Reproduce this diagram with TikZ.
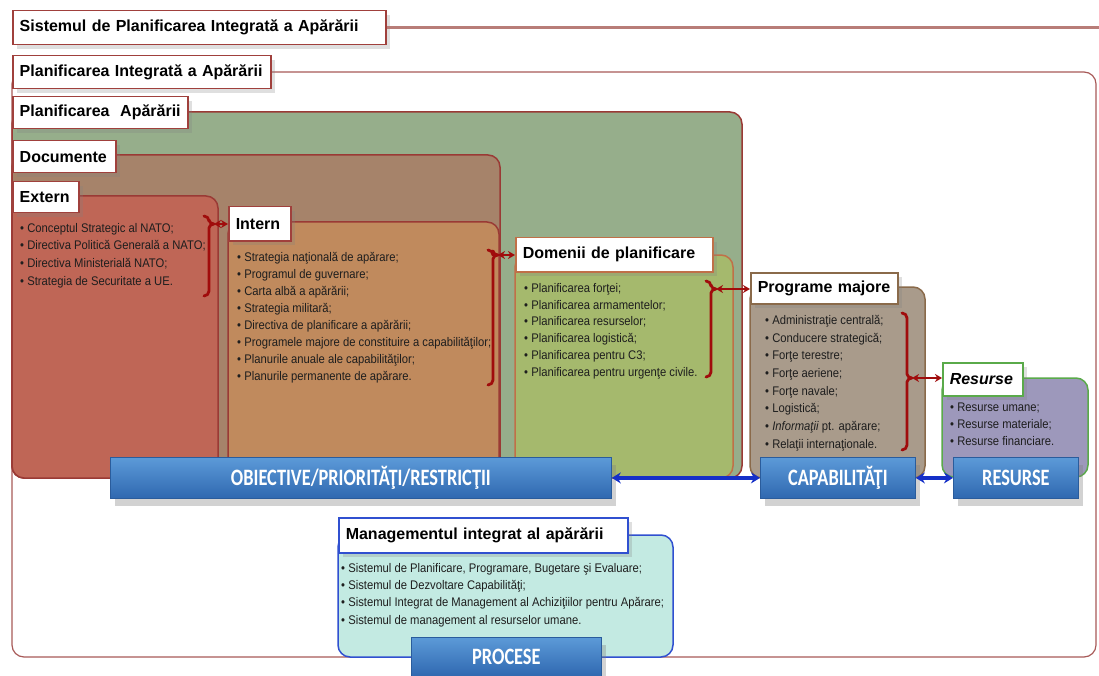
\documentclass[tikz,border=0pt]{standalone}
\usepackage{fontspec}
\setmainfont{Liberation Sans}
\newfontfamily\itemfont{Liberation Sans}[FakeStretch=0.9]
\newfontfamily\barfont{Carlito}[FakeStretch=0.78]
\usetikzlibrary{arrows.meta,shadows}
\definecolor{framered}{HTML}{A85A58}
\definecolor{boxred}{HTML}{9A3A35}
\definecolor{plangreen}{HTML}{96AE8B}
\definecolor{docbrown}{HTML}{A6836A}
\definecolor{externred}{HTML}{BF6656}
\definecolor{interncol}{HTML}{C08A5D}
\definecolor{domgreen}{HTML}{A5B96D}
\definecolor{domborder}{HTML}{C07048}
\definecolor{progcol}{HTML}{A99B8B}
\definecolor{progborder}{HTML}{8A6A4A}
\definecolor{rescol}{HTML}{9D98BB}
\definecolor{resborder}{HTML}{5AAA4A}
\definecolor{mgmtcol}{HTML}{C3EAE2}
\definecolor{mgmtborder}{HTML}{3050D0}
\definecolor{lblred}{HTML}{A0403C}
\definecolor{hdrline}{HTML}{B87D78}
\definecolor{bracered}{HTML}{A00C0C}
\definecolor{arrblue}{HTML}{1530C8}
\definecolor{bartop}{HTML}{5C9AD8}
\definecolor{barbot}{HTML}{2F68B0}
\definecolor{bardraw}{HTML}{2A5C9C}
\definecolor{itemtext}{HTML}{1E1E1E}
\newcommand\drawbrace[4]{\draw[bracepath] (#1-5,#2) to[out=0,in=90] (#1,#2+5) -- (#1,#3-4) to[out=-90,in=180] (#1+5,#3) to[out=180,in=90] (#1,#3+4) -- (#1,#4-5) to[out=-90,in=0] (#1-5,#4);}
\tikzset{
  cont/.style={line width=1.5pt, rounded corners=12pt},
  lbl/.style={draw=lblred, fill=white, line width=1.5pt, anchor=north west, inner xsep=7pt, inner ysep=0pt, align=left, font=\fontsize{16}{18}\selectfont\bfseries, drop shadow={shadow xshift=4pt, shadow yshift=-4pt, opacity=0.25, fill=gray}},
  itemlist/.style={anchor=north west, inner sep=0pt, align=left, text=itemtext, font=\itemfont\fontsize{12.5}{#1}\selectfont},
  bar/.style={anchor=north west, draw=bardraw, line width=0.8pt, top color=bartop, bottom color=barbot, text=white, font=\barfont\bfseries\fontsize{23.5}{25}\selectfont, inner sep=0pt, drop shadow={shadow xshift=5pt, shadow yshift=-8pt, opacity=0.35, fill=gray}},
  bracepath/.style={draw=bracered, line width=2.8pt, line cap=round, line join=round},
  redarr/.style={draw=bracered, line width=2.5pt, {Stealth[length=7pt,width=8pt]}-{Stealth[length=7pt,width=8pt]}},
  bluearr/.style={draw=arrblue, line width=3.5pt, {Stealth[length=9pt,width=11pt]}-{Stealth[length=9pt,width=11pt]}},
}
\begin{document}
\begin{tikzpicture}[x=1pt,y=-1pt]
\useasboundingbox (0,0) rectangle (1099,676);
\coordinate (hdrEnd) at (1099,27);
% containers
\draw[cont, draw=framered, line width=1.2pt, fill=white] (12,72) rectangle (1096,657);
\draw[cont, draw=boxred, fill=plangreen] (12,112) rectangle (742,478);
\draw[cont, draw=boxred, fill=docbrown] (12,155) rectangle (500,478);
\draw[cont, draw=boxred, fill=externred] (12,196) rectangle (218,478);
\draw[cont, draw=boxred, fill=interncol] (228,222) rectangle (499,478);
\draw[cont, draw=domborder, fill=domgreen] (515,255) rectangle (733,478);
\draw[cont, draw=progborder, fill=progcol] (750,287) rectangle (925,478);
\draw[cont, draw=resborder, fill=rescol] (942,378) rectangle (1088,477);
\draw[cont, draw=mgmtborder, fill=mgmtcol] (338,535) rectangle (673,657);
% labels
\node[lbl, text width=359pt, minimum height=34pt] (L0) at (12,10) {Sistemul de Planificarea Integrată a Apărării};
\draw[draw=hdrline, line width=3pt] (L0.east) -- (L0.east -| hdrEnd);
\node[lbl, text width=244pt, minimum height=33pt] (L1) at (12,55) {Planificarea Integrată a Apărării};
\node[lbl, text width=161pt, minimum height=32pt] (L2) at (12,96) {Planificarea\ \ Apărării};
\node[lbl, text width=89pt, minimum height=32pt] (L3) at (12,140) {Documente};
\node[lbl, text width=52pt, minimum height=31pt] (L4) at (12,181) {Extern};
\node[lbl, text width=48pt, minimum height=34pt] (L5) at (228,206) {Intern};
\node[lbl, draw=domborder, text width=183pt, minimum height=34pt] (L6) at (515,237) {Domenii de planificare};
\node[lbl, draw=progborder, text width=133pt, minimum height=31pt] (L7) at (750,272) {Programe majore};
\node[lbl, draw=resborder, text width=66pt, minimum height=33pt, font=\fontsize{16}{18}\selectfont\bfseries\itshape] (L8) at (942,362) {Resurse};
\node[lbl, draw=mgmtborder, text width=275pt, minimum height=35pt] (L9) at (338,517) {Managementul integrat al apărării};
% item lists
\node[itemlist=17.7] (iExt) at (20,223) {• Conceptul Strategic al NATO;\\• Directiva Politică Generală a NATO;\\• Directiva Ministerială NATO;\\• Strategia de Securitate a UE.};
\node[itemlist=17] (iInt) at (237,252) {• Strategia naţională de apărare;\\• Programul de guvernare;\\• Carta albă a apărării;\\• Strategia militară;\\• Directiva de planificare a apărării;\\• Programele majore de constituire a capabilităţilor;\\• Planurile anuale ale capabilităţilor;\\• Planurile permanente de apărare.};
\node[itemlist=16.8] (iDom) at (524,283) {• Planificarea forţei;\\• Planificarea armamentelor;\\• Planificarea resurselor;\\• Planificarea logistică;\\• Planificarea pentru C3;\\• Planificarea pentru urgenţe civile.};
\node[itemlist=17.7] (iProg) at (765,315) {• Administraţie centrală;\\• Conducere strategică;\\• Forţe terestre;\\• Forţe aeriene;\\• Forţe navale;\\• Logistică;\\• \textit{Informaţii} pt. apărare;\\• Relaţii internaţionale.};
\node[itemlist=17] (iRes) at (950,403) {• Resurse umane;\\• Resurse materiale;\\• Resurse financiare.};
\node[itemlist=17.3] (iMgmt) at (341,563) {• Sistemul de Planificare, Programare, Bugetare şi Evaluare;\\• Sistemul de Dezvoltare Capabilităţi;\\• Sistemul Integrat de Management al Achiziţiilor pentru Apărare;\\• Sistemul de management al resurselor umane.};
% braces and red arrows
\drawbrace{209}{216}{224}{296}
\drawbrace{493}{250}{255}{385}
\drawbrace{711}{281}{289}{377}
\drawbrace{907}{313}{378}{450}
\coordinate (t1) at (214,224);
\coordinate (t2) at (498,255);
\coordinate (t3) at (716,289);
\coordinate (t4) at (912,378);
\draw[redarr] (t1) -- (t1 -| L5.west);
\draw[redarr] (t2) -- (t2 -| L6.west);
\draw[redarr] (t3) -- (t3 -| L7.west);
\draw[redarr] (t4) -- (t4 -| L8.west);
% blue bars
\node[bar, minimum width=501pt, minimum height=41pt] (O) at (110,457) {OBIECTIVE/PRIORITĂŢI/RESTRICŢII};
\node[bar, minimum width=155pt, minimum height=41pt] (C) at (760,457) {CAPABILITĂŢI};
\node[bar, minimum width=125pt, minimum height=41pt] (R) at (953,457) {RESURSE};
\node[bar, minimum width=190pt, minimum height=39pt] (P) at (411,637) {PROCESE};
\draw[bluearr] (O.east) -- (C.west);
\draw[bluearr] (C.east) -- (R.west);
\end{tikzpicture}
\end{document}
